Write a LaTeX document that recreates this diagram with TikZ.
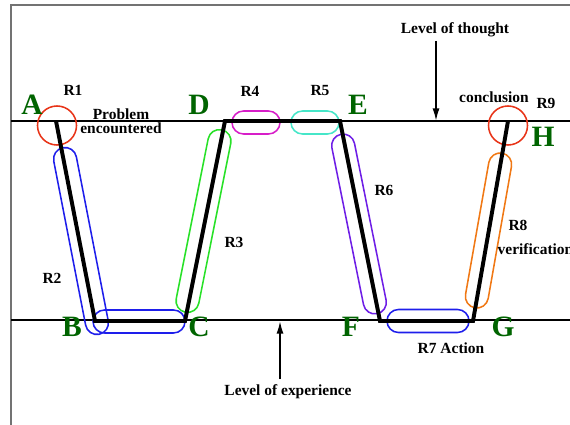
\documentclass[tikz,border=0pt]{standalone}
\usepackage{fontspec}
\setmainfont{Liberation Serif}
\usetikzlibrary{arrows.meta, positioning, shapes.misc}
\definecolor{ptgreen}{RGB}{0,100,0}
\definecolor{ringred}{RGB}{232,52,24}
\definecolor{capblue}{RGB}{30,30,235}
\definecolor{capgreen}{RGB}{40,225,40}
\definecolor{capmagenta}{RGB}{215,30,200}
\definecolor{capcyan}{RGB}{70,230,200}
\definecolor{capviolet}{RGB}{110,30,230}
\definecolor{caporange}{RGB}{240,120,20}

\begin{document}
\begin{tikzpicture}[
  x=0.025cm, y=-0.025cm,
  frame/.style={draw=black!55, line width=1pt},
  level/.style={line width=0.8pt},
  walk/.style={line width=2.8pt, line join=miter},
  letter/.style={font=\fontsize{21}{21}\selectfont\bfseries, text=ptgreen, inner sep=0pt},
  lbl/.style={font=\fontsize{11}{12}\selectfont\bfseries, inner sep=1pt, align=center},
  capsule/.style={rounded rectangle, draw, line width=1.1pt, minimum height=0.575cm,
    inner sep=0pt},
  ring/.style={circle, draw=ringred, line width=1.1pt, minimum size=0.975cm, inner sep=0pt},
  arrow/.style={-{Latex[length=9pt, width=5pt]}, line width=1.3pt}
]
\useasboundingbox (0,0) rectangle (570,425);

% -- frame --
\draw[frame] (570,5) -- (11,5) -- (11,425);

% -- levels --
\draw[level] (11,121) -- (570,121);
\draw[level] (11,320) -- (570,320);

% -- points of the walk --
\coordinate (A) at (56,121);
\coordinate (B) at (95,321);
\coordinate (C) at (185,321);
\coordinate (D) at (225,121);
\coordinate (E) at (340,121);
\coordinate (F) at (380,321);
\coordinate (G) at (473,321);
\coordinate (H) at (508,121);

% -- regions --
\node[ring] (r1) at (57,125.5) {};
\node[capsule, draw=capblue, minimum width=4.75cm, rotate=-79] (r2) at (81,241) {};
\node[capsule, draw=capblue, minimum width=2.3cm] (r2b) at (139,321.5) {};
\node[capsule, draw=capgreen, minimum width=4.65cm, rotate=78.7] (r3) at (203.5,221) {};
\node[capsule, draw=capmagenta, minimum width=1.2cm] (r4) at (256,122.5) {};
\node[capsule, draw=capcyan, minimum width=1.2cm] (r5) at (315,122.5) {};
\node[capsule, draw=capviolet, minimum width=4.575cm, rotate=-78.6] (r6) at (359,224) {};
\node[capsule, draw=capblue, minimum width=2.05cm] (r7) at (428,321) {};
\node[capsule, draw=caporange, minimum width=3.925cm, rotate=80] (r8) at (488.5,230.5) {};
\node[ring] (r9) at (508,125.5) {};

% -- the walk --
\draw[walk] (A) -- (B) -- (C) -- (D) -- (E) -- (F) -- (G) -- (H);

% -- letters --
\node[letter] (la) at (32,105) {A};
\node[letter] (lb) at (72,327) {B};
\node[letter] (lc) at (199,327) {C};
\node[letter] (ld) at (199,105) {D};
\node[letter] (le) at (358,105) {E};
\node[letter] (lf) at (351,327) {F};
\node[letter] (lg) at (503,327) {G};
\node[letter] (lh) at (543,137) {H};

% -- labels --
\node[lbl] (t1) at (73,90) {R1};
\node[lbl] (tprob) at (121,121.5) {Problem\\[-2pt]encountered};
\node[lbl] (t2) at (52,278) {R2};
\node[lbl] (t3) at (234,242) {R3};
\node[lbl] (t4) at (250,91) {R4};
\node[lbl] (t5) at (320,91) {R5};
\node[lbl] (t6) at (384,190) {R6};
\node[lbl] (t7) at (451,348) {R7 Action};
\node[lbl] (t8) at (518,225) {R8};
\node[lbl, anchor=west] (tver) at (496,249) {verification};
\node[lbl] (tconc) at (494,97) {conclusion};
\node[lbl] (t9) at (546,103) {R9};

% -- level arrows --
\node[lbl] (thought) at (455,30) {Level of thought};
\coordinate (thoughtend) at (436,121);
\draw[arrow] (436,41) -- (thoughtend);
\node[lbl] (experience) at (288,392) {Level of experience};
\coordinate (expend) at (280,321);
\draw[arrow] (280,379) -- (expend);

\end{tikzpicture}
\end{document}
